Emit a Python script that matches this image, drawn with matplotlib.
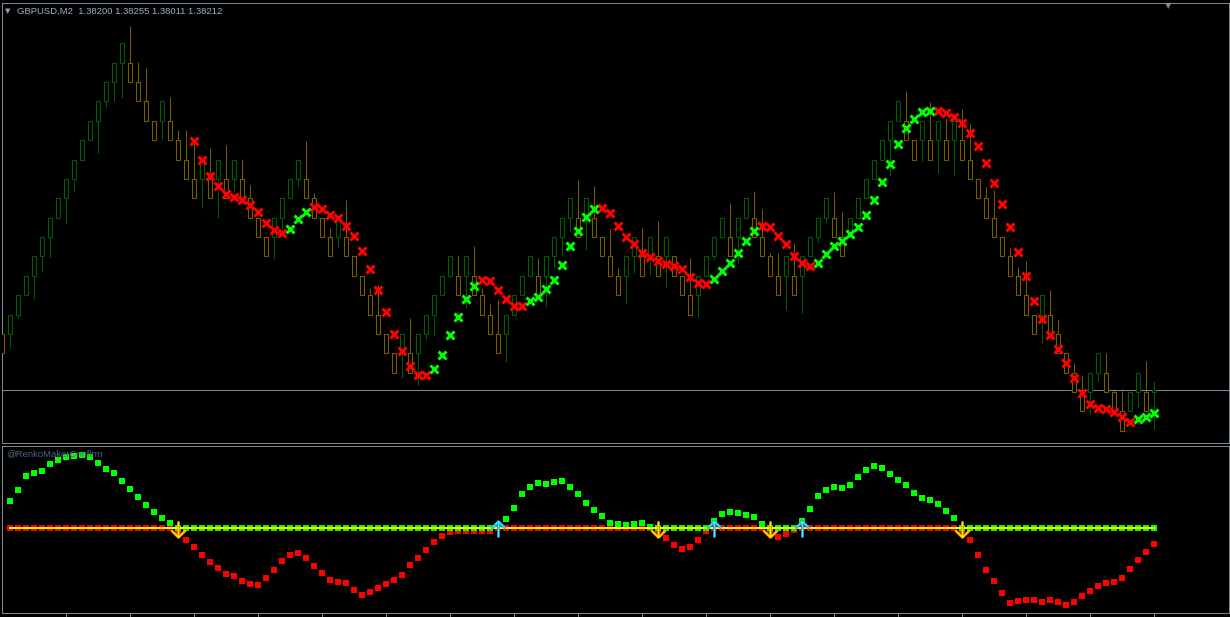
import matplotlib
matplotlib.use("Agg")
import matplotlib.pyplot as plt
from matplotlib.path import Path
import numpy as np

# ---------------- data ----------------
symbol_title = "GBPUSD,M2  1.38200 1.38255 1.38011 1.38212"
indicator_label = "@RenkoMakerConfirm"
bid_price = 1.38212

opens = [
    1.385, 1.385, 1.386, 1.387, 1.388, 1.389, 1.390, 1.391, 1.392, 1.393,
    1.394, 1.395, 1.396, 1.397, 1.398, 1.399, 1.399, 1.398, 1.397, 1.396,
    1.396, 1.396, 1.395, 1.394, 1.393, 1.393, 1.393, 1.393, 1.393, 1.393,
    1.393, 1.392, 1.391, 1.390, 1.390, 1.391, 1.392, 1.393, 1.393, 1.392,
    1.391, 1.390, 1.390, 1.390, 1.389, 1.388, 1.387, 1.386, 1.385, 1.384,
    1.384, 1.384, 1.384, 1.385, 1.386, 1.387, 1.388, 1.388, 1.388, 1.388,
    1.387, 1.386, 1.385, 1.385, 1.386, 1.387, 1.388, 1.388, 1.388, 1.389,
    1.390, 1.391, 1.391, 1.391, 1.391, 1.390, 1.389, 1.388, 1.388, 1.389,
    1.389, 1.389, 1.389, 1.389, 1.389, 1.388, 1.387, 1.387, 1.388, 1.389,
    1.390, 1.390, 1.390, 1.391, 1.391, 1.390, 1.389, 1.388, 1.388, 1.388,
    1.388, 1.389, 1.390, 1.391, 1.391, 1.390, 1.390, 1.391, 1.392, 1.393,
    1.394, 1.395, 1.396, 1.396, 1.395, 1.395, 1.395, 1.395, 1.395, 1.395,
    1.395, 1.394, 1.393, 1.392, 1.391, 1.390, 1.389, 1.388, 1.387, 1.386,
    1.386, 1.386, 1.385, 1.384, 1.383, 1.382, 1.382, 1.383, 1.383, 1.382,
    1.381, 1.381, 1.382, 1.382, 1.38200]

closes = [
    1.384, 1.386, 1.387, 1.388, 1.389, 1.390, 1.391, 1.392, 1.393, 1.394,
    1.395, 1.396, 1.397, 1.398, 1.399, 1.400, 1.398, 1.397, 1.396, 1.395,
    1.397, 1.395, 1.394, 1.393, 1.392, 1.394, 1.392, 1.394, 1.392, 1.394,
    1.392, 1.391, 1.390, 1.389, 1.391, 1.392, 1.393, 1.394, 1.392, 1.391,
    1.390, 1.389, 1.391, 1.389, 1.388, 1.387, 1.386, 1.385, 1.384, 1.383,
    1.385, 1.383, 1.385, 1.386, 1.387, 1.388, 1.389, 1.387, 1.389, 1.387,
    1.386, 1.385, 1.384, 1.386, 1.387, 1.388, 1.389, 1.387, 1.389, 1.390,
    1.391, 1.392, 1.390, 1.392, 1.390, 1.389, 1.388, 1.387, 1.389, 1.390,
    1.388, 1.390, 1.388, 1.390, 1.388, 1.387, 1.386, 1.388, 1.389, 1.390,
    1.391, 1.389, 1.391, 1.392, 1.390, 1.389, 1.388, 1.387, 1.389, 1.387,
    1.389, 1.390, 1.391, 1.392, 1.390, 1.389, 1.391, 1.392, 1.393, 1.394,
    1.395, 1.396, 1.397, 1.395, 1.394, 1.396, 1.394, 1.396, 1.394, 1.396,
    1.394, 1.393, 1.392, 1.391, 1.390, 1.389, 1.388, 1.387, 1.386, 1.385,
    1.387, 1.385, 1.384, 1.383, 1.382, 1.381, 1.383, 1.384, 1.382, 1.381,
    1.380, 1.382, 1.383, 1.381, 1.38212]

highs = [
    1.38675, 1.386, 1.387, 1.388, 1.389, 1.390, 1.391, 1.392, 1.393, 1.394,
    1.395, 1.396, 1.397, 1.398, 1.399, 1.400, 1.40089, 1.39902, 1.39871, 1.396,
    1.397, 1.39721, 1.39553, 1.39553, 1.39501, 1.394, 1.39458, 1.394, 1.39475, 1.394,
    1.39403, 1.39269, 1.391, 1.390, 1.391, 1.392, 1.393, 1.394, 1.39496, 1.39227,
    1.391, 1.39047, 1.391, 1.39191, 1.389, 1.388, 1.38739, 1.38753, 1.385, 1.384,
    1.385, 1.38581, 1.385, 1.386, 1.387, 1.388, 1.389, 1.38907, 1.389, 1.38954,
    1.38737, 1.38654, 1.38675, 1.386, 1.387, 1.388, 1.389, 1.38892, 1.389, 1.390,
    1.391, 1.392, 1.39294, 1.392, 1.39264, 1.390, 1.39040, 1.38842, 1.389, 1.390,
    1.39045, 1.390, 1.39083, 1.390, 1.389, 1.388, 1.38890, 1.388, 1.389, 1.390,
    1.391, 1.39177, 1.391, 1.392, 1.39238, 1.39145, 1.38916, 1.38916, 1.389, 1.38968,
    1.389, 1.390, 1.391, 1.392, 1.39234, 1.39131, 1.391, 1.392, 1.393, 1.394,
    1.395, 1.396, 1.397, 1.39754, 1.395, 1.396, 1.39699, 1.396, 1.39613, 1.396,
    1.39661, 1.39582, 1.393, 1.39260, 1.39243, 1.390, 1.38942, 1.38844, 1.38876, 1.386,
    1.387, 1.38727, 1.38575, 1.384, 1.38348, 1.38288, 1.383, 1.384, 1.38400, 1.38214,
    1.38214, 1.382, 1.383, 1.38360, 1.38255]

lows = [
    1.384, 1.38427, 1.38582, 1.387, 1.38680, 1.38820, 1.38897, 1.391, 1.39073, 1.39239,
    1.394, 1.395, 1.39432, 1.39665, 1.39701, 1.39719, 1.398, 1.397, 1.396, 1.395,
    1.39499, 1.395, 1.394, 1.393, 1.392, 1.39157, 1.392, 1.39100, 1.392, 1.39227,
    1.392, 1.391, 1.390, 1.389, 1.38887, 1.39036, 1.392, 1.39260, 1.392, 1.391,
    1.390, 1.389, 1.38945, 1.389, 1.388, 1.387, 1.386, 1.385, 1.384, 1.383,
    1.38272, 1.383, 1.38236, 1.38469, 1.38491, 1.387, 1.38795, 1.387, 1.38634, 1.387,
    1.386, 1.385, 1.384, 1.38354, 1.386, 1.387, 1.388, 1.387, 1.38641, 1.38840,
    1.38907, 1.39028, 1.390, 1.38933, 1.390, 1.389, 1.388, 1.387, 1.38658, 1.38813,
    1.388, 1.38804, 1.388, 1.38744, 1.388, 1.387, 1.386, 1.38589, 1.388, 1.38882,
    1.390, 1.389, 1.38865, 1.391, 1.390, 1.389, 1.388, 1.387, 1.38624, 1.387,
    1.38610, 1.389, 1.38971, 1.39074, 1.390, 1.389, 1.390, 1.391, 1.392, 1.393,
    1.394, 1.39317, 1.396, 1.395, 1.394, 1.39394, 1.394, 1.39332, 1.394, 1.39317,
    1.394, 1.393, 1.392, 1.391, 1.390, 1.389, 1.388, 1.387, 1.386, 1.385,
    1.38452, 1.385, 1.384, 1.383, 1.382, 1.381, 1.38085, 1.38257, 1.382, 1.381,
    1.380, 1.381, 1.38116, 1.381, 1.38011]

# confirmation line (x markers), starts at bar 24
signal_start = 24
signal = [
    1.39496, 1.39398, 1.39315, 1.39264, 1.39221, 1.39205, 1.39191, 1.39164, 1.39128, 1.39074,
    1.39036, 1.39022, 1.39043, 1.39092, 1.39131, 1.39154, 1.39145, 1.39114, 1.39097, 1.39059,
    1.39007, 1.38928, 1.38835, 1.38727, 1.38615, 1.38500, 1.38413, 1.38336, 1.38288, 1.38288,
    1.38319, 1.38391, 1.38494, 1.38589, 1.38680, 1.38747, 1.38778, 1.38775, 1.38727, 1.38680,
    1.38646, 1.38646, 1.38672, 1.38692, 1.38730, 1.38778, 1.38856, 1.38954, 1.39033, 1.39105,
    1.39146, 1.39151, 1.39126, 1.39059, 1.38999, 1.38964, 1.38919, 1.38897, 1.38875, 1.38861,
    1.38851, 1.38834, 1.38795, 1.38761, 1.38758, 1.38782, 1.38826, 1.38868, 1.38916, 1.38981,
    1.39033, 1.39057, 1.39050, 1.39005, 1.38963, 1.38902, 1.38866, 1.38852, 1.38868, 1.38913,
    1.38955, 1.38980, 1.39014, 1.39053, 1.39114, 1.39191, 1.39283, 1.39377, 1.39480, 1.39564,
    1.39609, 1.39647, 1.39651, 1.39651, 1.39639, 1.39621, 1.39590, 1.39539, 1.39470, 1.39381,
    1.39277, 1.39169, 1.39050, 1.38924, 1.38799, 1.38672, 1.38577, 1.38494, 1.38421, 1.38351,
    1.38271, 1.38194, 1.38138, 1.38119, 1.38111, 1.38099, 1.38070, 1.38047, 1.38059, 1.38070,
    1.38090]
signal_dir = ("R" * 12 + "G" * 3 + "R" * 15 + "G" * 6 + "R" * 6 + "G" * 9 + "R" * 14
              + "G" * 6 + "R" * 7 + "G" * 15 + "R" * 25 + "G" * 3)

# lower oscillator, bars 1..144
osc_start = 1
osc = [
    27.5, 38.5, 52.5, 55.5, 57.5, 64.5, 68.5, 71.5, 72.2, 73.5,
    71.5, 65.5, 59.5, 55.5, 47.5, 39.5, 31.5, 23.5, 16.5, 10.5,
    4.8, -2.5, -11.5, -18.5, -26.5, -33.5, -39.5, -45.5, -47.5, -52.5,
    -55.5, -56.5, -49.5, -41.5, -32.5, -26.5, -24.5, -29.5, -37.5, -44.5,
    -51.5, -53.5, -54.5, -61.5, -66.5, -63.5, -59.5, -55.5, -51.5, -47.2,
    -37.2, -30.2, -22.2, -14.2, -8.2, -4.2, -3.2, -3.2, -2.5, -2.5,
    -3.2, 2.0, 8.8, 19.8, 33.8, 40.8, 44.8, 43.8, 45.8, 46.8,
    40.8, 33.8, 24.8, 17.8, 11.8, 5.2, 3.8, 2.8, 3.8, 4.8,
    1.0, -2.0, -10.2, -17.2, -21.2, -19.2, -12.2, -3.2, 7.5, 13.8,
    15.8, 14.8, 12.8, 10.8, 3.8, -2.0, -9.2, -6.2, -1.5, 7.5,
    18.8, 31.8, 37.8, 40.8, 39.8, 42.8, 50.8, 57.8, 61.8, 59.8,
    53.8, 47.8, 42.8, 34.8, 29.8, 27.8, 23.8, 16.8, 9.8, -1.5,
    -12.2, -27.2, -42.2, -53.2, -65.2, -75.2, -73.2, -72.2, -72.2, -74.2,
    -72.2, -74.2, -77.2, -74.2, -68.2, -63.2, -58.2, -55.2, -54.2, -50.2,
    -41.2, -32.2, -24.2, -16.2]

sell_arrows = [22, 82, 96, 120]
buy_arrows = [62, 89, 100]

# ---------------- style ----------------
W, H = 1230, 617
BG = "black"
FRAME = "#7d8894"
BULL = "#035a03"
BEAR = "#7a5c00"
XRED = "#ff0000"
XGREEN = "#00ff00"
PX = 0.72  # points per pixel at dpi 100

fig = plt.figure(figsize=(W / 100, H / 100), dpi=100, facecolor=BG)


def px_axes(x0, y0, x1, y1):
    return fig.add_axes([x0 / W, 1 - y1 / H, (x1 - x0) / W, (y1 - y0) / H])


ax = px_axes(1.5, 3, 1229, 443)
ax2 = px_axes(1.5, 446, 1229, 613)

for a in (ax, ax2):
    a.set_facecolor(BG)
    for s in a.spines.values():
        s.set_color(FRAME)
        s.set_linewidth(1 * PX)
    a.set_yticks([])
    a.set_xlim(-0.1, 153.34)

# ---------------- main panel ----------------
n = len(opens)
xi = np.arange(n)
o = np.array(opens)
c = np.array(closes)
cols = [BULL if cc >= oo else BEAR for oo, cc in zip(o, c)]
ax.vlines(xi, lows, highs, colors=cols, linewidth=1 * PX, zorder=2)
ax.bar(xi, c - o, bottom=o, width=0.48, color=BG, edgecolor=cols,
       linewidth=1.1 * PX, zorder=3)

ax.axhline(bid_price, color=FRAME, linewidth=1 * PX, zorder=1)

sx = np.arange(signal_start, signal_start + len(signal))
sv = np.array(signal)
sd = np.array(list(signal_dir))
for key, colr in (("R", XRED), ("G", XGREEN)):
    m = sd == key
    ax.plot(sx[m], sv[m], linestyle="none", marker="x", markersize=8.5 * PX,
            markeredgewidth=3.0 * PX, color=colr, zorder=5)

ax.set_ylim(1.37937, 1.40208)
ax.set_xticks([])

# ---------------- lower panel ----------------
ox = np.arange(osc_start, osc_start + len(osc))
ov = np.array(osc)
green_v = np.where(ov > 0, ov, 0.0)
red_v = np.where(ov < 0, ov, 0.0)
ax2.plot(ox, red_v, linestyle="none", marker="s", markersize=6 * PX,
         markeredgewidth=0, color=XRED, zorder=3)
ax2.plot(ox, green_v, linestyle="none", marker="s", markersize=6 * PX,
         markeredgewidth=0, color=XGREEN, zorder=3)
ax2.plot(ox, np.zeros_like(ov), color="#ffff00", linewidth=2 * PX, zorder=4)

down_path = Path([(0, 8), (0, -8), (-7, -1), (0, -8), (7, -1)],
                 [Path.MOVETO, Path.LINETO, Path.MOVETO, Path.LINETO, Path.LINETO])
up_path = Path([(0, -8), (0, 8), (-7, 1), (0, 8), (7, 1)],
               [Path.MOVETO, Path.LINETO, Path.MOVETO, Path.LINETO, Path.LINETO])
arrow_level = -1.0
for xs, pth, outer, inner in ((sell_arrows, down_path, "#e88a00", "#ffe000"),
                              (buy_arrows, up_path, "#1a8ad8", "#40f0ff")):
    yv = np.full(len(xs), arrow_level)
    ax2.plot(xs, yv, linestyle="none", marker=pth, markersize=16 * PX,
             markerfacecolor="none", markeredgecolor=outer,
             markeredgewidth=2.8 * PX, zorder=6)
    ax2.plot(xs, yv, linestyle="none", marker=pth, markersize=16 * PX,
             markerfacecolor="none", markeredgecolor=inner,
             markeredgewidth=1.3 * PX, zorder=7)

ax2.set_ylim(-85, 82)
ax2.set_xticks(np.arange(8, 145, 8))
ax2.tick_params(axis="x", direction="out", length=4 * PX, width=1 * PX,
                color=FRAME, labelbottom=False)

# ---------------- texts ----------------
fig.text(5 / W, 1 - 11 / H, "\u25bc", fontsize=5, color="#8fa4b8",
         ha="left", va="center", family="DejaVu Sans")
fig.text(17 / W, 1 - 11 / H, symbol_title, fontsize=6.8, color="#9db0c4",
         ha="left", va="center", family="Liberation Sans")
fig.text(1168 / W, 1 - 5.5 / H, "\u25bc", fontsize=6, color="#7d8894",
         ha="center", va="center", family="DejaVu Sans")
fig.text(6 / W, 1 - 454 / H, indicator_label, fontsize=6.8, color="#4d6782",
         ha="left", va="center", family="Liberation Sans", zorder=0)

fig.savefig("out.png", dpi=100, facecolor=BG)
